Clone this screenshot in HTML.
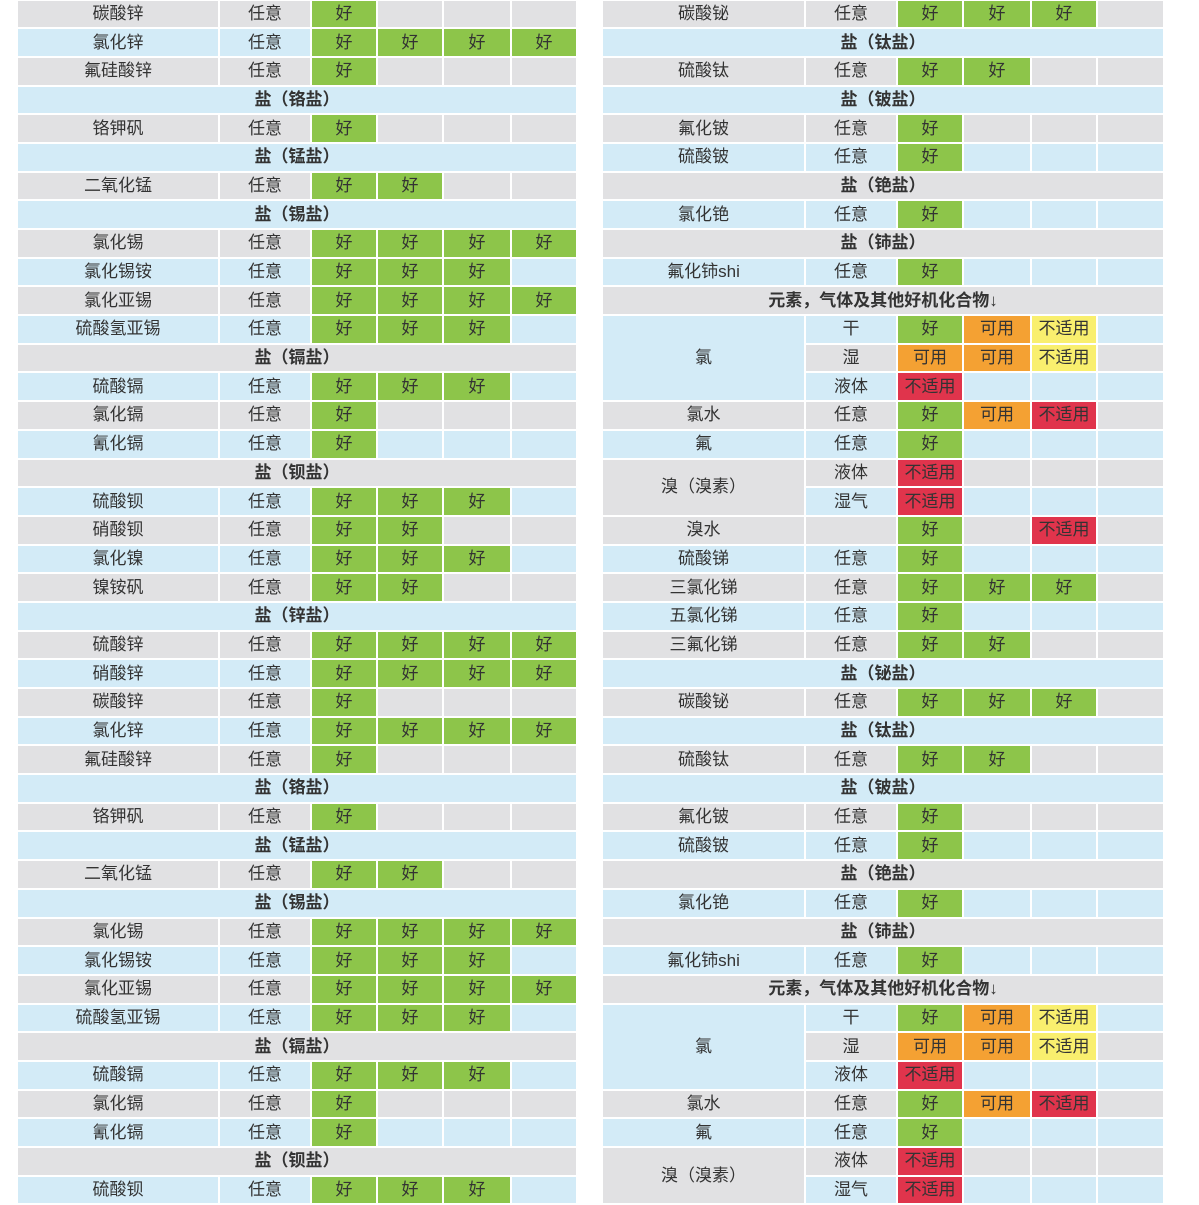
<!DOCTYPE html>
<html><head><meta charset="utf-8"><style>
html,body{margin:0;padding:0;background:#fff;width:1199px;height:1203px;overflow:hidden}
table{position:absolute;top:-1.5px;border-collapse:separate;border-spacing:2px;table-layout:fixed;font-family:"Liberation Sans","Noto Sans CJK SC",sans-serif;font-size:17px;color:#333}
td{height:26.7px;padding:0;text-align:center;vertical-align:middle;line-height:20px;white-space:nowrap;overflow:hidden}
tr.a td{background:#e1e1e3}
tr.b td{background:#d3ebf7}
tr td.g{background:#8dc54a}
tr td.o{background:#f4a133}
tr td.y{background:#f9ef6e}
tr td.r{background:#e0344c}
td.h{font-weight:bold}
td.ma{background:#e1e1e3!important}
td.mb{background:#d3ebf7!important}
#L{left:16px;width:562px}
#R{left:601px;width:564px}
</style></head><body>
<table id="L">
<colgroup><col style="width:200px"><col style="width:90px"><col style="width:64px"><col style="width:64px"><col style="width:66px"><col style="width:64px"></colgroup>
<tr class="a"><td>碳酸锌</td><td>任意</td><td class="g">好</td><td></td><td></td><td></td></tr>
<tr class="b"><td>氯化锌</td><td>任意</td><td class="g">好</td><td class="g">好</td><td class="g">好</td><td class="g">好</td></tr>
<tr class="a"><td>氟硅酸锌</td><td>任意</td><td class="g">好</td><td></td><td></td><td></td></tr>
<tr class="b"><td colspan="6" class="h">盐（铬盐）</td></tr>
<tr class="a"><td>铬钾矾</td><td>任意</td><td class="g">好</td><td></td><td></td><td></td></tr>
<tr class="b"><td colspan="6" class="h">盐（锰盐）</td></tr>
<tr class="a"><td>二氧化锰</td><td>任意</td><td class="g">好</td><td class="g">好</td><td></td><td></td></tr>
<tr class="b"><td colspan="6" class="h">盐（锡盐）</td></tr>
<tr class="a"><td>氯化锡</td><td>任意</td><td class="g">好</td><td class="g">好</td><td class="g">好</td><td class="g">好</td></tr>
<tr class="b"><td>氯化锡铵</td><td>任意</td><td class="g">好</td><td class="g">好</td><td class="g">好</td><td></td></tr>
<tr class="a"><td>氯化亚锡</td><td>任意</td><td class="g">好</td><td class="g">好</td><td class="g">好</td><td class="g">好</td></tr>
<tr class="b"><td>硫酸氢亚锡</td><td>任意</td><td class="g">好</td><td class="g">好</td><td class="g">好</td><td></td></tr>
<tr class="a"><td colspan="6" class="h">盐（镉盐）</td></tr>
<tr class="b"><td>硫酸镉</td><td>任意</td><td class="g">好</td><td class="g">好</td><td class="g">好</td><td></td></tr>
<tr class="a"><td>氯化镉</td><td>任意</td><td class="g">好</td><td></td><td></td><td></td></tr>
<tr class="b"><td>氰化镉</td><td>任意</td><td class="g">好</td><td></td><td></td><td></td></tr>
<tr class="a"><td colspan="6" class="h">盐（钡盐）</td></tr>
<tr class="b"><td>硫酸钡</td><td>任意</td><td class="g">好</td><td class="g">好</td><td class="g">好</td><td></td></tr>
<tr class="a"><td>硝酸钡</td><td>任意</td><td class="g">好</td><td class="g">好</td><td></td><td></td></tr>
<tr class="b"><td>氯化镍</td><td>任意</td><td class="g">好</td><td class="g">好</td><td class="g">好</td><td></td></tr>
<tr class="a"><td>镍铵矾</td><td>任意</td><td class="g">好</td><td class="g">好</td><td></td><td></td></tr>
<tr class="b"><td colspan="6" class="h">盐（锌盐）</td></tr>
<tr class="a"><td>硫酸锌</td><td>任意</td><td class="g">好</td><td class="g">好</td><td class="g">好</td><td class="g">好</td></tr>
<tr class="b"><td>硝酸锌</td><td>任意</td><td class="g">好</td><td class="g">好</td><td class="g">好</td><td class="g">好</td></tr>
<tr class="a"><td>碳酸锌</td><td>任意</td><td class="g">好</td><td></td><td></td><td></td></tr>
<tr class="b"><td>氯化锌</td><td>任意</td><td class="g">好</td><td class="g">好</td><td class="g">好</td><td class="g">好</td></tr>
<tr class="a"><td>氟硅酸锌</td><td>任意</td><td class="g">好</td><td></td><td></td><td></td></tr>
<tr class="b"><td colspan="6" class="h">盐（铬盐）</td></tr>
<tr class="a"><td>铬钾矾</td><td>任意</td><td class="g">好</td><td></td><td></td><td></td></tr>
<tr class="b"><td colspan="6" class="h">盐（锰盐）</td></tr>
<tr class="a"><td>二氧化锰</td><td>任意</td><td class="g">好</td><td class="g">好</td><td></td><td></td></tr>
<tr class="b"><td colspan="6" class="h">盐（锡盐）</td></tr>
<tr class="a"><td>氯化锡</td><td>任意</td><td class="g">好</td><td class="g">好</td><td class="g">好</td><td class="g">好</td></tr>
<tr class="b"><td>氯化锡铵</td><td>任意</td><td class="g">好</td><td class="g">好</td><td class="g">好</td><td></td></tr>
<tr class="a"><td>氯化亚锡</td><td>任意</td><td class="g">好</td><td class="g">好</td><td class="g">好</td><td class="g">好</td></tr>
<tr class="b"><td>硫酸氢亚锡</td><td>任意</td><td class="g">好</td><td class="g">好</td><td class="g">好</td><td></td></tr>
<tr class="a"><td colspan="6" class="h">盐（镉盐）</td></tr>
<tr class="b"><td>硫酸镉</td><td>任意</td><td class="g">好</td><td class="g">好</td><td class="g">好</td><td></td></tr>
<tr class="a"><td>氯化镉</td><td>任意</td><td class="g">好</td><td></td><td></td><td></td></tr>
<tr class="b"><td>氰化镉</td><td>任意</td><td class="g">好</td><td></td><td></td><td></td></tr>
<tr class="a"><td colspan="6" class="h">盐（钡盐）</td></tr>
<tr class="b"><td>硫酸钡</td><td>任意</td><td class="g">好</td><td class="g">好</td><td class="g">好</td><td></td></tr>
</table>

<table id="R">
<colgroup><col style="width:201px"><col style="width:90px"><col style="width:64px"><col style="width:66px"><col style="width:64px"><col style="width:65px"></colgroup>
<tr class="a"><td>碳酸铋</td><td>任意</td><td class="g">好</td><td class="g">好</td><td class="g">好</td><td></td></tr>
<tr class="b"><td colspan="6" class="h">盐（钛盐）</td></tr>
<tr class="a"><td>硫酸钛</td><td>任意</td><td class="g">好</td><td class="g">好</td><td></td><td></td></tr>
<tr class="b"><td colspan="6" class="h">盐（铍盐）</td></tr>
<tr class="a"><td>氟化铍</td><td>任意</td><td class="g">好</td><td></td><td></td><td></td></tr>
<tr class="b"><td>硫酸铍</td><td>任意</td><td class="g">好</td><td></td><td></td><td></td></tr>
<tr class="a"><td colspan="6" class="h">盐（铯盐）</td></tr>
<tr class="b"><td>氯化铯</td><td>任意</td><td class="g">好</td><td></td><td></td><td></td></tr>
<tr class="a"><td colspan="6" class="h">盐（铈盐）</td></tr>
<tr class="b"><td>氟化铈shi</td><td>任意</td><td class="g">好</td><td></td><td></td><td></td></tr>
<tr class="a"><td colspan="6" class="h">元素，气体及其他好机化合物↓</td></tr>
<tr class="b"><td rowspan="3" class="mb">氯</td><td>干</td><td class="g">好</td><td class="o">可用</td><td class="y">不适用</td><td></td></tr>
<tr class="a"><td>湿</td><td class="o">可用</td><td class="o">可用</td><td class="y">不适用</td><td></td></tr>
<tr class="b"><td>液体</td><td class="r">不适用</td><td></td><td></td><td></td></tr>
<tr class="a"><td>氯水</td><td>任意</td><td class="g">好</td><td class="o">可用</td><td class="r">不适用</td><td></td></tr>
<tr class="b"><td>氟</td><td>任意</td><td class="g">好</td><td></td><td></td><td></td></tr>
<tr class="a"><td rowspan="2" class="ma">溴（溴素）</td><td>液体</td><td class="r">不适用</td><td></td><td></td><td></td></tr>
<tr class="b"><td>湿气</td><td class="r">不适用</td><td></td><td></td><td></td></tr>
<tr class="a"><td>溴水</td><td></td><td class="g">好</td><td></td><td class="r">不适用</td><td></td></tr>
<tr class="b"><td>硫酸锑</td><td>任意</td><td class="g">好</td><td></td><td></td><td></td></tr>
<tr class="a"><td>三氯化锑</td><td>任意</td><td class="g">好</td><td class="g">好</td><td class="g">好</td><td></td></tr>
<tr class="b"><td>五氯化锑</td><td>任意</td><td class="g">好</td><td></td><td></td><td></td></tr>
<tr class="a"><td>三氟化锑</td><td>任意</td><td class="g">好</td><td class="g">好</td><td></td><td></td></tr>
<tr class="b"><td colspan="6" class="h">盐（铋盐）</td></tr>
<tr class="a"><td>碳酸铋</td><td>任意</td><td class="g">好</td><td class="g">好</td><td class="g">好</td><td></td></tr>
<tr class="b"><td colspan="6" class="h">盐（钛盐）</td></tr>
<tr class="a"><td>硫酸钛</td><td>任意</td><td class="g">好</td><td class="g">好</td><td></td><td></td></tr>
<tr class="b"><td colspan="6" class="h">盐（铍盐）</td></tr>
<tr class="a"><td>氟化铍</td><td>任意</td><td class="g">好</td><td></td><td></td><td></td></tr>
<tr class="b"><td>硫酸铍</td><td>任意</td><td class="g">好</td><td></td><td></td><td></td></tr>
<tr class="a"><td colspan="6" class="h">盐（铯盐）</td></tr>
<tr class="b"><td>氯化铯</td><td>任意</td><td class="g">好</td><td></td><td></td><td></td></tr>
<tr class="a"><td colspan="6" class="h">盐（铈盐）</td></tr>
<tr class="b"><td>氟化铈shi</td><td>任意</td><td class="g">好</td><td></td><td></td><td></td></tr>
<tr class="a"><td colspan="6" class="h">元素，气体及其他好机化合物↓</td></tr>
<tr class="b"><td rowspan="3" class="mb">氯</td><td>干</td><td class="g">好</td><td class="o">可用</td><td class="y">不适用</td><td></td></tr>
<tr class="a"><td>湿</td><td class="o">可用</td><td class="o">可用</td><td class="y">不适用</td><td></td></tr>
<tr class="b"><td>液体</td><td class="r">不适用</td><td></td><td></td><td></td></tr>
<tr class="a"><td>氯水</td><td>任意</td><td class="g">好</td><td class="o">可用</td><td class="r">不适用</td><td></td></tr>
<tr class="b"><td>氟</td><td>任意</td><td class="g">好</td><td></td><td></td><td></td></tr>
<tr class="a"><td rowspan="2" class="ma">溴（溴素）</td><td>液体</td><td class="r">不适用</td><td></td><td></td><td></td></tr>
<tr class="b"><td>湿气</td><td class="r">不适用</td><td></td><td></td><td></td></tr>
</table>
</body></html>
